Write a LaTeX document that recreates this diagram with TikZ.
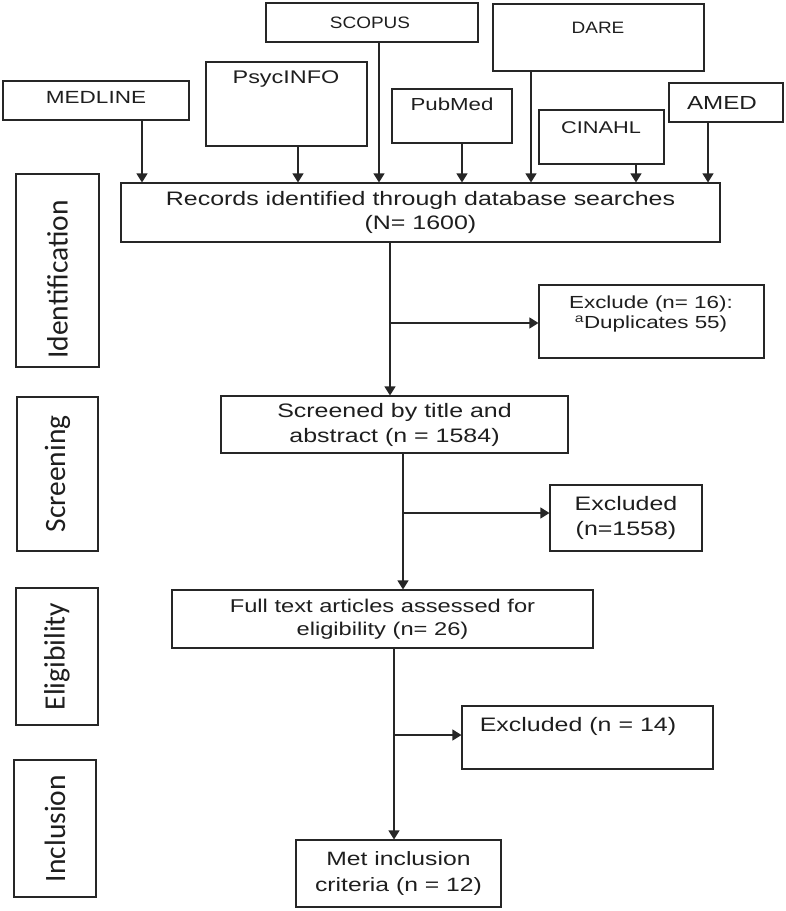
\documentclass[tikz,border=0pt]{standalone}
\usepackage{fontspec}
\setmainfont{Liberation Sans}[FakeStretch=1.28]
\newfontfamily\stagefont{Carlito}
\usetikzlibrary{arrows.meta}
\definecolor{linec}{HTML}{262626}
\definecolor{txtc}{HTML}{1E1E1E}
\newcommand\fsz[2]{\fontsize{#1}{#2}\selectfont}
\begin{document}
\begin{tikzpicture}[x=1pt,y=-1pt,
  box/.style={draw=linec, line width=1.1pt, inner sep=0pt, text=txtc, align=center},
  lbl/.style={inner sep=0pt, text=txtc, align=center},
  stagebox/.style={draw=linec, line width=1.1pt, rotate=90, inner sep=0pt, text=txtc,
                   font=\stagefont\fsz{29.5}{32}},
  arr/.style={draw=linec, line width=1.1pt, -{Triangle[length=9pt,width=11pt]}},
  ln/.style={draw=linec, line width=1.1pt}]
\useasboundingbox (0,0) rectangle (786,911);

% database boxes
\node[box, minimum width=186pt, minimum height=39pt] (medline) at (96,100.5) {};
\node[lbl, font=\fsz{17.6}{21}] (medlineT) at (96,97) {MEDLINE};
\node[box, minimum width=161pt, minimum height=84pt] (psyc) at (286.5,104) {};
\node[lbl, font=\fsz{18.3}{22}] (psycT) at (286,79) {PsycINFO};
\node[box, minimum width=212pt, minimum height=39pt] (scopus) at (372,22.5) {};
\node[lbl, font=\fsz{16.5}{20}] (scopusT) at (370,23) {\addfontfeature{FakeStretch=1.15}SCOPUS};
\node[box, minimum width=120pt, minimum height=54pt] (pubmed) at (452,116) {};
\node[lbl, font=\fsz{17.4}{21}] (pubmedT) at (452,104) {PubMed};
\node[box, minimum width=211pt, minimum height=67pt] (dare) at (598.5,37.5) {};
\node[lbl, font=\fsz{16.5}{20}] (dareT) at (598,28) {\addfontfeature{FakeStretch=1.15}DARE};
\node[box, minimum width=125pt, minimum height=54pt] (cinahl) at (601.5,137) {};
\node[lbl, font=\fsz{17}{21}] (cinahlT) at (601,128) {CINAHL};
\node[box, minimum width=114pt, minimum height=39pt] (amed) at (726,102.5) {};
\node[lbl, font=\fsz{18.9}{22}] (amedT) at (722,103) {AMED};

% records
\node[box, minimum width=599pt, minimum height=59pt, font=\fsz{19.5}{24}] (records) at (420.5,212.5)
  {Records identified through database searches\\(N= 1600)};

% database arrows
\foreach \n/\xx in {medline/142, psyc/298, scopus/379, pubmed/462, dare/531, cinahl/636, amed/708} {
  \coordinate (c\n) at (\xx,0);
  \draw[arr] (\n.south -| c\n) -- (records.north -| c\n);
}

% stage boxes
\node[stagebox, minimum width=193pt, minimum height=83pt] (ident) at (57.5,270.5) {Identification\hspace*{18pt}};
\node[stagebox, minimum width=154pt, minimum height=81pt] (screen) at (57.5,474) {Screening};
\node[stagebox, minimum width=137pt, minimum height=82pt] (elig) at (57,656.5) {Eligibility};
\node[stagebox, minimum width=137pt, minimum height=82pt] (incl) at (55,828.5) {Inclusion};

% main flow boxes
\node[box, minimum width=225pt, minimum height=73pt] (excl1) at (651.5,321.5) {};
\node[lbl, font=\fsz{17.5}{20}] (excl1T) at (651,314) {Exclude (n= 16):\\\textsuperscript{a}Duplicates 55)};
\node[box, minimum width=347pt, minimum height=57pt, font=\fsz{19.5}{25}] (screened) at (394.5,424.5)
  {Screened by title and\\abstract (n = 1584)};
\node[box, minimum width=152pt, minimum height=66pt, font=\fsz{19.5}{25}] (excl2) at (626,518)
  {Excluded\\(n=1558)};
\node[box, minimum width=421pt, minimum height=58pt, font=\fsz{18.5}{23}] (full) at (382.5,619)
  {Full text articles assessed for\\eligibility (n= 26)};
\node[box, minimum width=251pt, minimum height=63pt] (excl3) at (587.5,737.5) {};
\node[lbl, font=\fsz{19.5}{24}] (excl3T) at (578,726) {Excluded (n = 14)};
\node[box, minimum width=205pt, minimum height=67pt, font=\fsz{19.3}{26}] (met) at (398.5,873.5)
  {Met inclusion\\criteria (n = 12)};

% flow connectors
\coordinate (v1) at (390,0);
\coordinate (b1) at (390,323);
\draw[arr] (records.south -| v1) -- (screened.north -| v1);
\draw[arr] (b1) -- (b1 -| excl1.west);

\coordinate (v2) at (403,0);
\coordinate (b2) at (403,513);
\draw[arr] (screened.south -| v2) -- (full.north -| v2);
\draw[arr] (b2) -- (b2 -| excl2.west);

\coordinate (v3) at (394,0);
\coordinate (b3) at (394,735);
\draw[arr] (full.south -| v3) -- (met.north -| v3);
\draw[arr] (b3) -- (b3 -| excl3.west);
\end{tikzpicture}
\end{document}
